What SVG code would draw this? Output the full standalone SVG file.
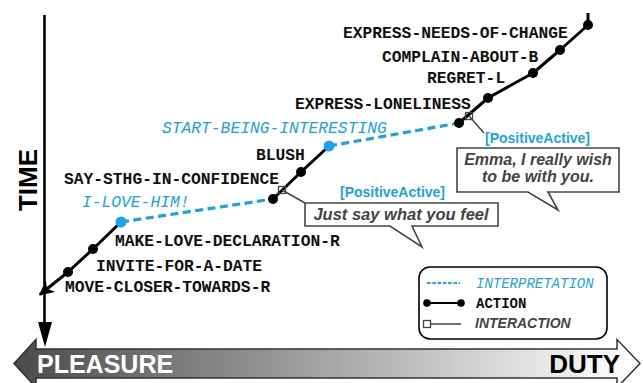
<svg xmlns="http://www.w3.org/2000/svg" width="643" height="383" viewBox="0 0 643 383">
<defs>
<linearGradient id="band" x1="0" y1="0" x2="1" y2="0">
<stop offset="0" stop-color="#4a4a4a"/>
<stop offset="0.45" stop-color="#9c9c9c"/>
<stop offset="0.92" stop-color="#f4f4f4"/>
<stop offset="1" stop-color="#ffffff"/>
</linearGradient>
<marker id="ah" viewBox="0 0 10 10" refX="9" refY="5" markerWidth="5" markerHeight="5" orient="auto" markerUnits="strokeWidth">
<path d="M0,0 L10,5 L0,10 L3,5 Z" fill="#000"/>
</marker>
<style>
.lbl{font-family:"Liberation Mono","DejaVu Sans Mono",monospace;font-weight:bold;font-size:16.3px;fill:#111}
.blu{font-family:"Liberation Mono","DejaVu Sans Mono",monospace;font-style:italic;font-size:16.3px;fill:#1ba3e6}
.act{stroke:#000;stroke-width:3;fill:none;stroke-linejoin:round}
.itp{stroke:#1ba3e6;stroke-width:3.2;stroke-dasharray:8 4.5;fill:none}
.dot{fill:#000}
.bdot{fill:#1ba3e6}
.sq{fill:none;stroke:#444;stroke-width:1.3}
.con{stroke:#444;stroke-width:1.5;fill:none}
.bal{fill:#fff;stroke:#444;stroke-width:1.6}
.btx{font-family:"Liberation Sans",Arial,sans-serif;font-weight:bold;font-style:italic;font-size:16.5px;fill:#444}
.pa{font-family:"Liberation Sans",Arial,sans-serif;font-weight:bold;font-size:14px;fill:#1ba3e6}
</style>
</defs>
<rect width="643" height="383" fill="#fff"/>

<g id="time-axis">
<line x1="44.5" y1="15" x2="44.5" y2="325" stroke="#000" stroke-width="2.6"/>
<polygon points="38,322 52,322 45,347" fill="#000"/>
<text transform="translate(37,180) rotate(-90)" text-anchor="middle" font-family="'Liberation Sans',Arial,sans-serif" font-weight="bold" font-size="26" fill="#000">TIME</text>
</g>

<g id="pleasure-duty-axis">
<polygon points="14,363.5 36,339.5 36,349 617,349 617,339.5 640,363.5 617,387.5 617,378 36,378 36,387.5" fill="url(#band)" stroke="#333" stroke-width="1.5"/>
<text x="37" y="373" font-family="'Liberation Sans',Arial,sans-serif" font-weight="bold" font-size="25" fill="#fff">PLEASURE</text>
<text x="620" y="373" text-anchor="end" font-family="'Liberation Sans',Arial,sans-serif" font-weight="bold" font-size="26" fill="#000">DUTY</text>
</g>

<g id="connectors">
<polyline class="act" points="121,222 93,249 68,272 40,294.5" marker-end="url(#ah)"/>
<line class="itp" x1="121" y1="222" x2="273" y2="199"/>
<polyline class="act" points="273,199 301,172 329,146"/>
<line class="itp" x1="329" y1="146" x2="459" y2="123"/>
<polyline class="act" points="459,123 488,98 533,73 560,50 588,25 588,13"/>
<line class="con" x1="282" y1="190" x2="305" y2="203"/>
<line class="con" x1="469" y1="116" x2="484" y2="133"/>
</g>

<g id="n-move-closer"><circle class="dot" cx="68" cy="272" r="5"/><text class="lbl" x="65" y="292">MOVE-CLOSER-TOWARDS-R</text></g>
<g id="n-invite"><circle class="dot" cx="93" cy="249" r="5"/><text class="lbl" x="96" y="271">INVITE-FOR-A-DATE</text></g>
<g id="n-make-love"><text class="lbl" x="115" y="246">MAKE-LOVE-DECLARATION-R</text></g>
<g id="n-i-love-him"><circle class="bdot" cx="121" cy="222" r="5.5"/><text class="blu" x="82" y="207">I-LOVE-HIM!</text></g>
<g id="n-say-sthg"><circle class="dot" cx="273" cy="199" r="5"/><text class="lbl" x="64" y="184">SAY-STHG-IN-CONFIDENCE</text></g>
<g id="i-say-sthg"><rect class="sq" x="278.5" y="186.5" width="7" height="7"/></g>
<g id="n-blush"><circle class="dot" cx="301" cy="172" r="5"/><text class="lbl" x="256" y="160">BLUSH</text></g>
<g id="n-start-being"><circle class="bdot" cx="329" cy="146" r="5.5"/><text class="blu" x="162" y="133">START-BEING-INTERESTING</text></g>
<g id="n-express-loneliness"><circle class="dot" cx="459" cy="123" r="5"/><text class="lbl" x="295" y="109">EXPRESS-LONELINESS</text></g>
<g id="i-express-loneliness"><rect class="sq" x="465.5" y="112.5" width="7" height="7"/></g>
<g id="n-regret"><circle class="dot" cx="488" cy="98" r="5"/><text class="lbl" x="427" y="83">REGRET-L</text></g>
<g id="n-complain"><circle class="dot" cx="533" cy="73" r="5"/><text class="lbl" x="382" y="62">COMPLAIN-ABOUT-B</text></g>
<g id="n-express-needs"><circle class="dot" cx="560" cy="50" r="5"/><text class="lbl" x="343" y="38">EXPRESS-NEEDS-OF-CHANGE</text></g>
<g id="n-top"><circle class="dot" cx="588" cy="25" r="5"/></g>

<g id="balloon-just-say">
<text class="pa" x="340" y="197">[PositiveActive]</text>
<path class="bal" d="M305,203 H498 V226 H412 L422,247 L390,226 H305 Z"/>
<text class="btx" x="401" y="220" text-anchor="middle">Just say what you feel</text>
</g>

<g id="balloon-emma">
<text class="pa" x="485" y="143">[PositiveActive]</text>
<path class="bal" d="M457,148 H619 V192 H548 L558,210 L528,192 H457 Z"/>
<text class="btx" text-anchor="middle" style="font-size:16px"><tspan x="538" y="164.5">Emma, I really wish</tspan><tspan x="538" y="182">to be with you.</tspan></text>
</g>

<g id="legend">
<rect x="419" y="267" width="188" height="72" rx="11" ry="11" fill="#fff" stroke="#000" stroke-width="1.6"/>
<line x1="427" y1="283" x2="460" y2="283" stroke="#1ba3e6" stroke-width="1.8" stroke-dasharray="3.5 1.8"/>
<text x="476" y="287.5" font-family="'Liberation Mono',monospace" font-style="italic" font-size="14" fill="#1ba3e6">INTERPRETATION</text>
<line x1="427" y1="303" x2="461" y2="303" stroke="#000" stroke-width="2.2"/>
<circle cx="427" cy="303" r="3.8" fill="#000"/>
<circle cx="461" cy="303" r="3.8" fill="#000"/>
<text x="476" y="307.5" font-family="'Liberation Mono',monospace" font-weight="bold" font-size="14" fill="#111">ACTION</text>
<rect x="423.5" y="320.5" width="7" height="7" fill="none" stroke="#444" stroke-width="1.3"/>
<line x1="430.5" y1="324" x2="461" y2="324" stroke="#444" stroke-width="1.5"/>
<text x="475" y="328" font-family="'Liberation Sans',Arial,sans-serif" font-weight="bold" font-style="italic" font-size="14" fill="#444">INTERACTION</text>
</g>
</svg>
